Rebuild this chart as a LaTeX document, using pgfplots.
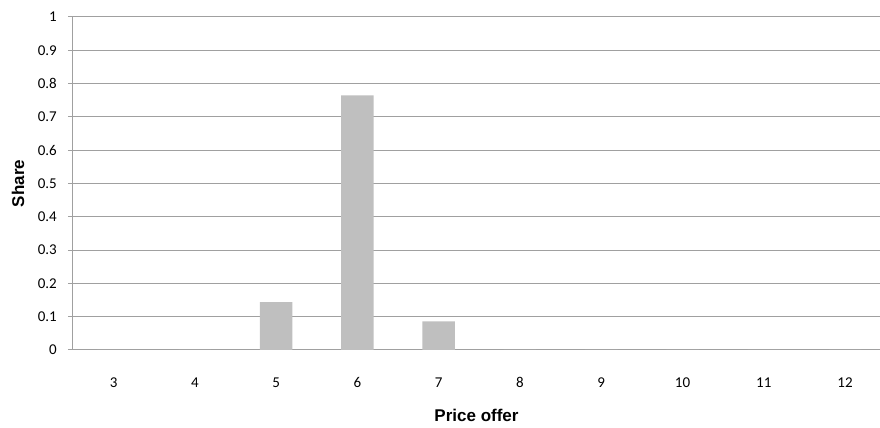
\documentclass[border=0pt]{standalone}
\usepackage{pgfplots}
\pgfplotsset{compat=1.18}
\usepackage{fontspec}
\setmainfont{Carlito}
\newfontfamily\arialfont{Liberation Sans}
\newcommand\tickfont{\fontsize{15}{17}\selectfont}
\definecolor{gridgray}{HTML}{A0A0A0}
\definecolor{bargray}{HTML}{BFBFBF}

\begin{document}
\begin{tikzpicture}
	\begin{axis}
		[
		scale only axis,
		width=807pt,
		height=333pt,
		xmin=2.5, xmax=12.43,
		ymin=0, ymax=1,
		ybar,
		bar width=32.5pt,
		axis x line*=bottom,
		axis y line*=left,
		axis line style={gridgray, line width=1pt},
		xtick={3,4,5,6,7,8,9,10,11,12},
		ytick={0,0.1,0.2,0.3,0.4,0.5,0.6,0.7,0.8,0.9,1},
		ymajorgrids,
		grid style={gridgray, line width=1pt},
		tick align=outside,
		major tick length=5pt,
		xtick style={draw=none},
		ytick style={gridgray, line width=1pt},
		/pgf/number format/assume math mode=true,
		yticklabel style={font=\tickfont, text=black, inner sep=0pt, xshift=-11pt},
		xticklabel style={font=\tickfont, text=black, inner sep=0pt, anchor=north, text height=10pt, text depth=0pt, yshift=-22pt},
		xlabel={Price offer},
		ylabel={Share},
		label style={font=\arialfont\bfseries\fontsize{17}{20}\selectfont},
		xlabel style={at={(axis description cs:0.5,0)}, anchor=center, yshift=-65pt},
		ylabel style={at={(axis description cs:0,0.5)}, anchor=center, yshift=55pt},
		]
		\addplot[fill=bargray, draw=none] coordinates {
			(3,0) (4,0) (5,0.144) (6,0.765) (7,0.086)
			(8,0) (9,0) (10,0) (11,0) (12,0)
		};
	\end{axis}
	\pgfresetboundingbox
	\path (current axis.south west) ++(-73pt,-78pt) coordinate (bbA);
	\path (current axis.north east) ++(0pt,17pt) coordinate (bbB);
	\useasboundingbox (bbA) rectangle (bbB);
\end{tikzpicture}
\end{document}
